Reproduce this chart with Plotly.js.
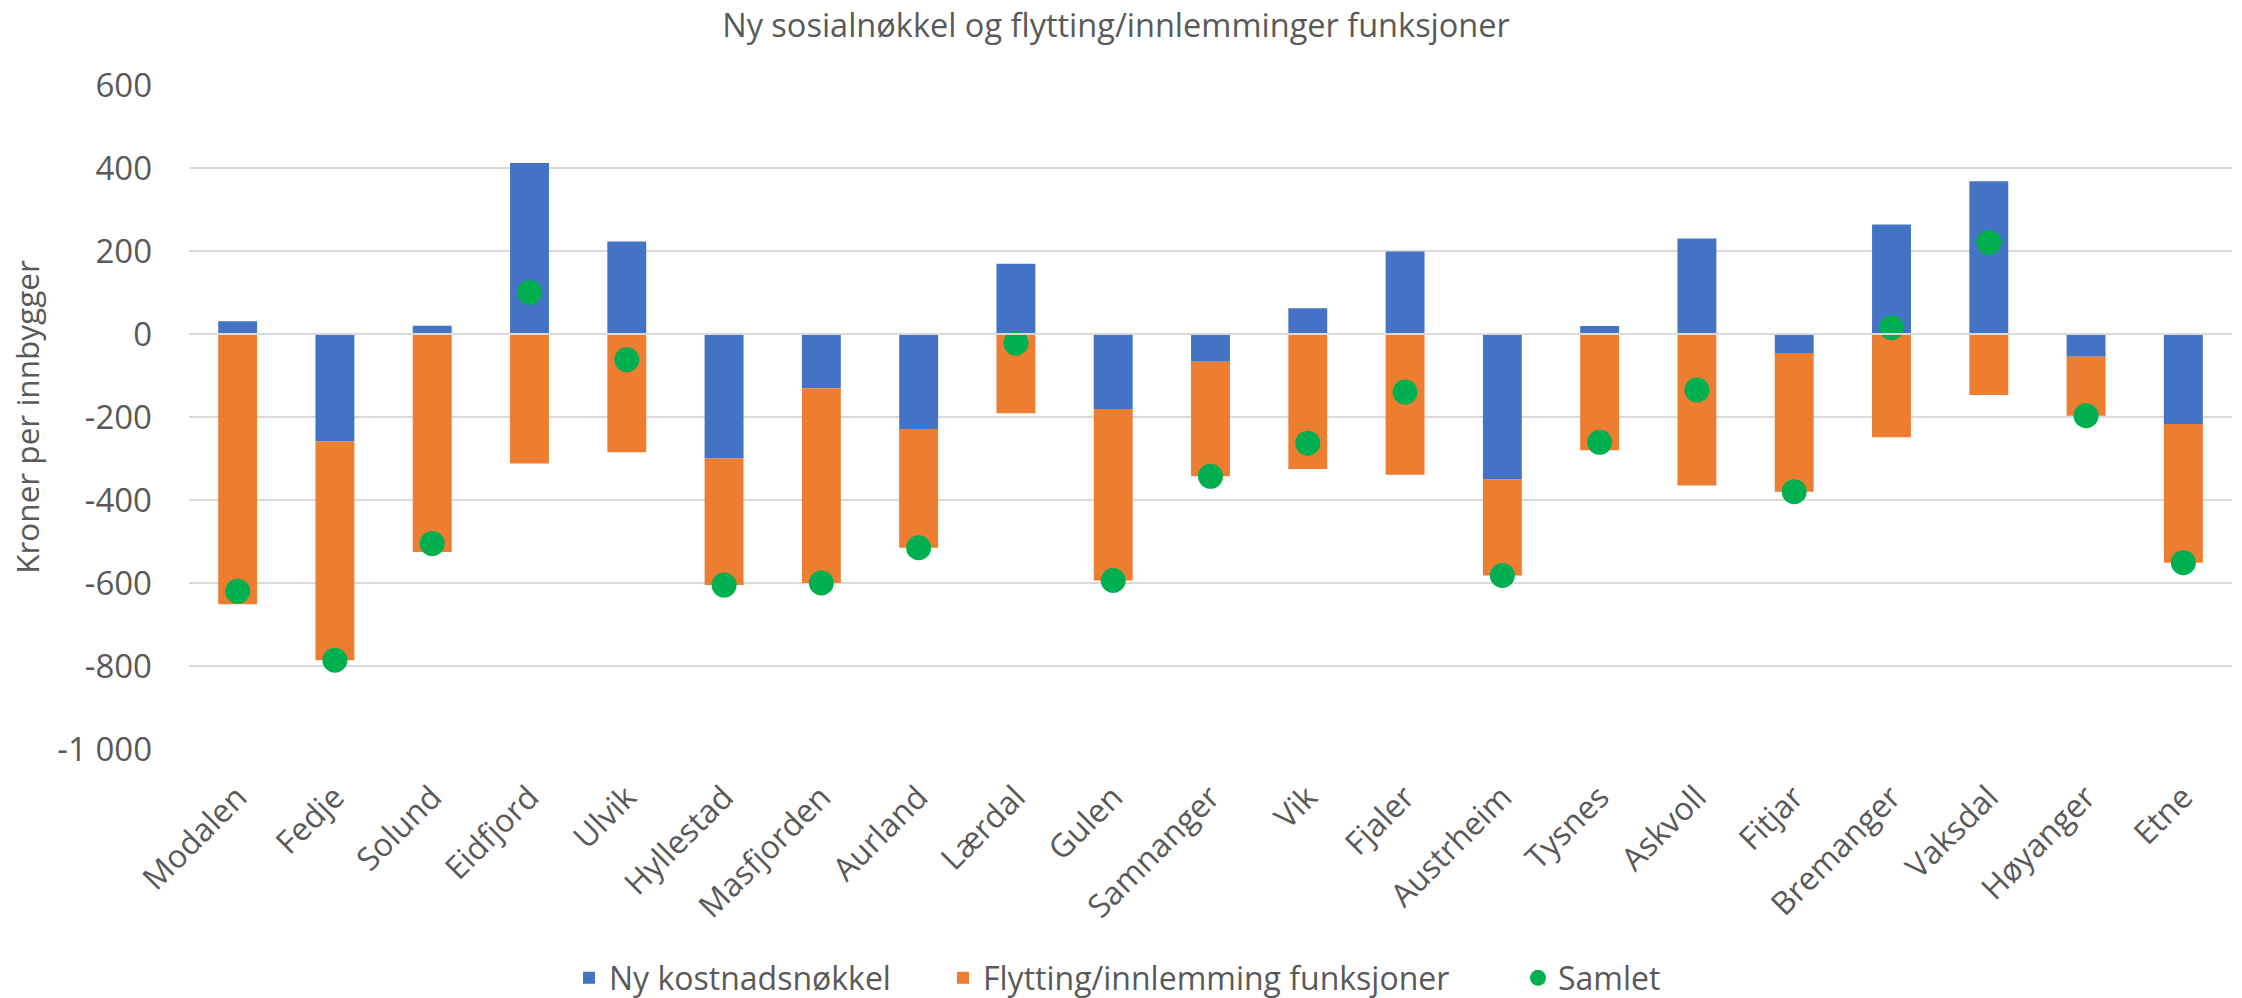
<!DOCTYPE html>
<html>
<head>
<meta charset="utf-8">
<script src="https://cdn.plot.ly/plotly-3.0.1.min.js"></script>
<style>html,body{margin:0;padding:0;background:#fff;}#chart{width:2242px;height:998px;}</style>
</head>
<body>
<div id="chart"></div>
<script>
const categories = ["Modalen","Fedje","Solund","Eidfjord","Ulvik","Hyllestad","Masfjorden","Aurland","Lærdal","Gulen","Samnanger","Vik","Fjaler","Austrheim","Tysnes","Askvoll","Fitjar","Bremanger","Vaksdal","Høyanger","Etne"];
const nyKostnadsnokkel = [31,-259,20,412,223,-300,-131,-229,169,-181,-67,62,199,-350,19,230,-46,264,368,-55,-217];
const flytting = [-651,-527,-525,-312,-285,-305,-469,-286,-191,-413,-276,-325,-339,-232,-280,-365,-334,-249,-147,-142,-334];
const samlet = [-620,-786,-505,100,-62,-605,-600,-515,-22,-594,-343,-263,-140,-582,-261,-135,-380,15,221,-197,-551];
const yTickVals = [600,400,200,0,-200,-400,-600,-800,-1000];
const yTickText = ["600","400","200","0","-200","-400","-600","-800","-1 000"];
const seriesNames = ["Ny kostnadsnøkkel","Flytting/innlemming funksjoner","Samlet"];

const FONT = "Open Sans, Noto Sans, sans-serif";
const GREY = "#595959";
const W = 2242, H = 998;

const data = [
  {type:"bar", name:seriesNames[0], x:categories, y:nyKostnadsnokkel, marker:{color:"#4472C4"}, legend:"legend"},
  {type:"bar", name:seriesNames[1], x:categories, y:flytting, marker:{color:"#ED7D31"}, legend:"legend2"},
  {type:"scatter", mode:"markers", name:seriesNames[2], x:categories, y:samlet,
   marker:{color:"#00B050", size:25}, legend:"legend3"}
];

function leg(px){
  return {orientation:"h", x:px/W, xref:"container", xanchor:"left", y:1-978/H, yref:"container", yanchor:"middle",
          font:{family:FONT, size:32, color:GREY}, itemwidth:30, bgcolor:"rgba(0,0,0,0)", borderwidth:0};
}

const layout = {
  width:W, height:H,
  paper_bgcolor:"#fff", plot_bgcolor:"#fff",
  barmode:"relative", bargap:0.6,
  margin:{l:189, r:10, t:85, b:249},
  font:{family:FONT, color:GREY, size:32},
  title:{text:"Ny sosialnøkkel og flytting/innlemminger funksjoner", font:{family:FONT, size:32.5, color:GREY},
         x:1116/W, xref:"container", xanchor:"center", y:1-26/H, yref:"container", yanchor:"middle"},
  xaxis:{type:"category", range:[-0.5, categories.length-0.5], autorange:false, automargin:false,
         tickangle:-45, tickfont:{family:FONT, size:32, color:GREY},
         showgrid:false, zeroline:false, showline:false, ticks:"", ticklabelstandoff:22},
  yaxis:{range:[-1000,600], autorange:false, automargin:false, tickvals:yTickVals, ticktext:yTickText,
         tickfont:{family:FONT, size:33, color:GREY},
         showgrid:true, gridcolor:"#d9d9d9", gridwidth:2, zeroline:false, showline:false, ticks:"",
         ticklabelstandoff:36,
         title:{text:"Kroner per innbygger", font:{family:FONT, size:31.5, color:GREY}, standoff:8}},
  shapes:[{type:"line", xref:"paper", x0:0, x1:1, yref:"y", y0:0, y1:0, layer:"above",
           line:{color:"#d9d9d9", width:2}}],
  legend:leg(569),
  legend2:leg(943),
  legend3:leg(1518),
  showlegend:true
};

Plotly.newPlot("chart", data, layout, {displayModeBar:false, staticPlot:true});
</script>
</body>
</html>
